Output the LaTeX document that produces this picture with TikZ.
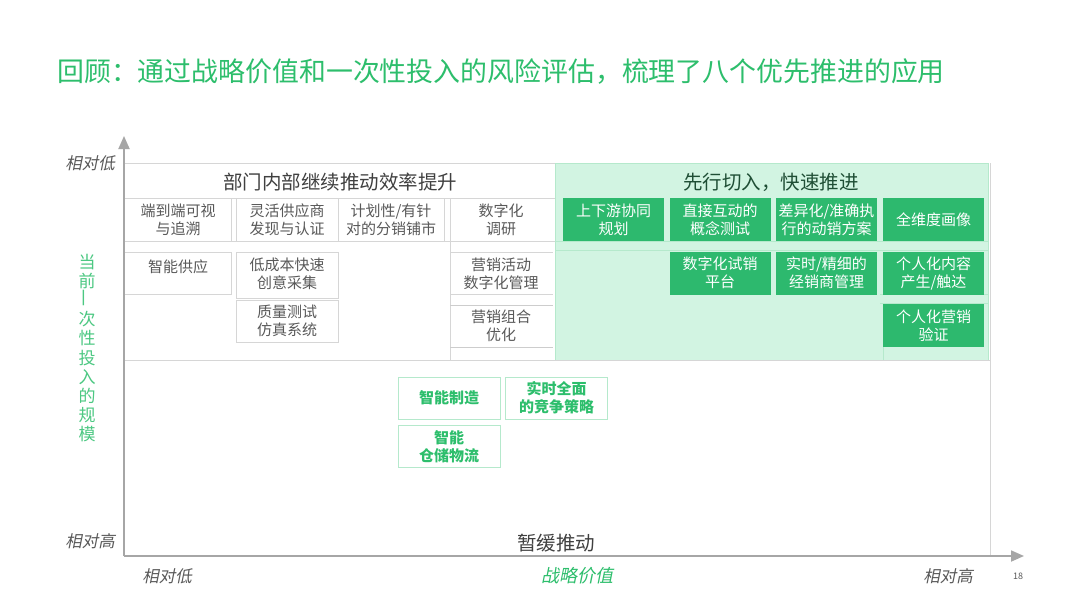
\documentclass[tikz,border=0pt]{standalone}
\usepackage{fontspec}
\setmainfont{Noto Sans CJK SC}
\newfontfamily\cjkit[FakeSlant=0.2]{Noto Sans CJK SC}
\usetikzlibrary{arrows.meta}
\definecolor{titlegreen}{HTML}{2DBE6C}
\definecolor{boxgreen}{HTML}{2DB96E}
\definecolor{paleg}{HTML}{D2F4E2}
\definecolor{paleline}{HTML}{B5E9CC}
\definecolor{gridgrey}{HTML}{D6D6D6}
\definecolor{txtgrey}{HTML}{595959}
\definecolor{darkgrey}{HTML}{404040}
\definecolor{axisgrey}{HTML}{A6A6A6}
\definecolor{darkg}{HTML}{1F4E35}
\tikzset{
  gl/.style={draw=gridgrey, line width=0.8pt},
  cell/.style={text=txtgrey, font=\fontsize{15}{18}\selectfont, align=center, inner sep=0pt},
  gbox/.style={fill=boxgreen, text=white, font=\fontsize{15}{18}\selectfont, align=center,
    minimum width=101pt, minimum height=43pt, inner sep=0pt},
  obox/.style={draw=paleline, line width=0.9pt, text=titlegreen, font=\bfseries\fontsize{15}{18}\selectfont,
    align=center, minimum width=102pt, minimum height=42pt, inner sep=0pt},
  head/.style={font=\fontsize{19.5}{22}\selectfont, inner sep=0pt},
  axlab/.style={text=txtgrey, font=\cjkit\fontsize{16.5}{20}\selectfont, inner sep=0pt},
  axisline/.style={draw=axisgrey, line width=1.8pt, -{Triangle[length=13pt,width=11pt]}},
}
\begin{document}
\begin{tikzpicture}[x=1pt,y=-1pt]
\useasboundingbox[fill=white] (0,0) rectangle (1080,608);
% title
\node[anchor=west, text=titlegreen, font=\fontsize{26.9}{30}\selectfont, inner sep=0pt] (title) at (57,72)
  {回顾：通过战略价值和一次性投入的风险评估，梳理了八个优先推进的应用};
% green region
\fill[paleg] (555,163) rectangle (988,360);
\draw[paleline, line width=0.8pt] (555,163) rectangle (988,360);
\draw[paleline, line width=0.6pt] (555,241) -- (988,241) (555,250) -- (988,250)
  (880,294) -- (988,294) (880,303) -- (988,303) (883,347) -- (883,360);
% grid of left region
\draw[gl] (124,163) -- (555,163);
\draw[gl] (124,360) -- (990,360);
\draw[gl] (990,163) -- (990,556);
\draw[gl] (124,198) -- (555,198) (124,241) -- (555,241);
\draw[gl] (231,198) -- (231,241) (236,198) -- (236,241) (338,198) -- (338,241) (444,198) -- (444,241);
\draw[gl] (450,198) -- (450,360);
\draw[gl] (124,252) -- (231,252) -- (231,294) -- (124,294);
\draw[gl] (236,252) rectangle (338,298);
\draw[gl] (236,300) rectangle (338,342);
\draw[gl] (450,252) -- (553,252) (450,294) -- (553,294);
\draw[gl, draw=gridgrey!80!black!60] (450,305) -- (553,305) (450,347) -- (553,347);
% headings
\node[head, text=darkgrey] (h1) at (340,182) {部门内部继续推动效率提升};
\node[head, text=darkg] (h2) at (771,182) {先行切入，快速推进};
\node[head, text=darkgrey] (h3) at (556,543) {暂缓推动};
% left cells
\node[cell] (c1) at (178,220) {端到端可视\\与追溯};
\node[cell] (c2) at (287,220) {灵活供应商\\发现与认证};
\node[cell] (c3) at (391,220) {计划性/有针\\对的分销铺市};
\node[cell] (c4) at (501,220) {数字化\\调研};
\node[cell] (c5) at (178,267) {智能供应};
\node[cell] (c6) at (287,274) {低成本快速\\创意采集};
\node[cell] (c7) at (287,321) {质量测试\\仿真系统};
\node[cell] (c8) at (501,274) {营销活动\\数字化管理};
\node[cell] (c9) at (501,326) {营销组合\\优化};
% green boxes
\node[gbox] (g1) at (613.5,219.5) {上下游协同\\规划};
\node[gbox] (g2) at (720,219.5) {直接互动的\\概念测试};
\node[gbox] (g3) at (826.5,219.5) {差异化/准确执\\行的动销方案};
\node[gbox] (g4) at (933.5,219.5) {全维度画像};
\node[gbox] (g5) at (720,273) {数字化试销\\平台};
\node[gbox] (g6) at (826.5,273) {实时/精细的\\经销商管理};
\node[gbox] (g7) at (933.5,273) {个人化内容\\产生/触达};
\node[gbox] (g8) at (933.5,325.5) {个人化营销\\验证};
% outline boxes
\node[obox] (o1) at (449,398) {智能制造};
\node[obox] (o2) at (556.5,398) {实时全面\\的竞争策略};
\node[obox] (o3) at (449,446.5) {智能\\仓储物流};
% axes
\coordinate (O) at (124,556);
\coordinate (ytip) at (124,136);
\coordinate (xtip) at (1024,556);
\draw[axisline] (O) -- (ytip);
\draw[axisline] (O) -- (xtip);
% axis labels
\node[axlab] (ylow) at (90,163) {相对低};
\node[axlab] (yhigh) at (90,541) {相对高};
\node[axlab] (xlow) at (167,576) {相对低};
\node[axlab] (xhigh) at (948,576) {相对高};
\node[axlab, text=titlegreen, font=\cjkit\fontsize{18}{20}\selectfont] (xname) at (577,576) {战略价值};
\node[text=txtgrey, font=\fontsize{9}{10}\selectfont, inner sep=0pt] (pg) at (1018,576) {18};
\node[text=titlegreen!85!white, font=\fontsize{17}{19.2}\selectfont, align=center, inner sep=0pt] (yname) at (87,348)
  {当\\前\\\rotatebox{90}{一}\\次\\性\\投\\入\\的\\规\\模};
\end{tikzpicture}
\end{document}
